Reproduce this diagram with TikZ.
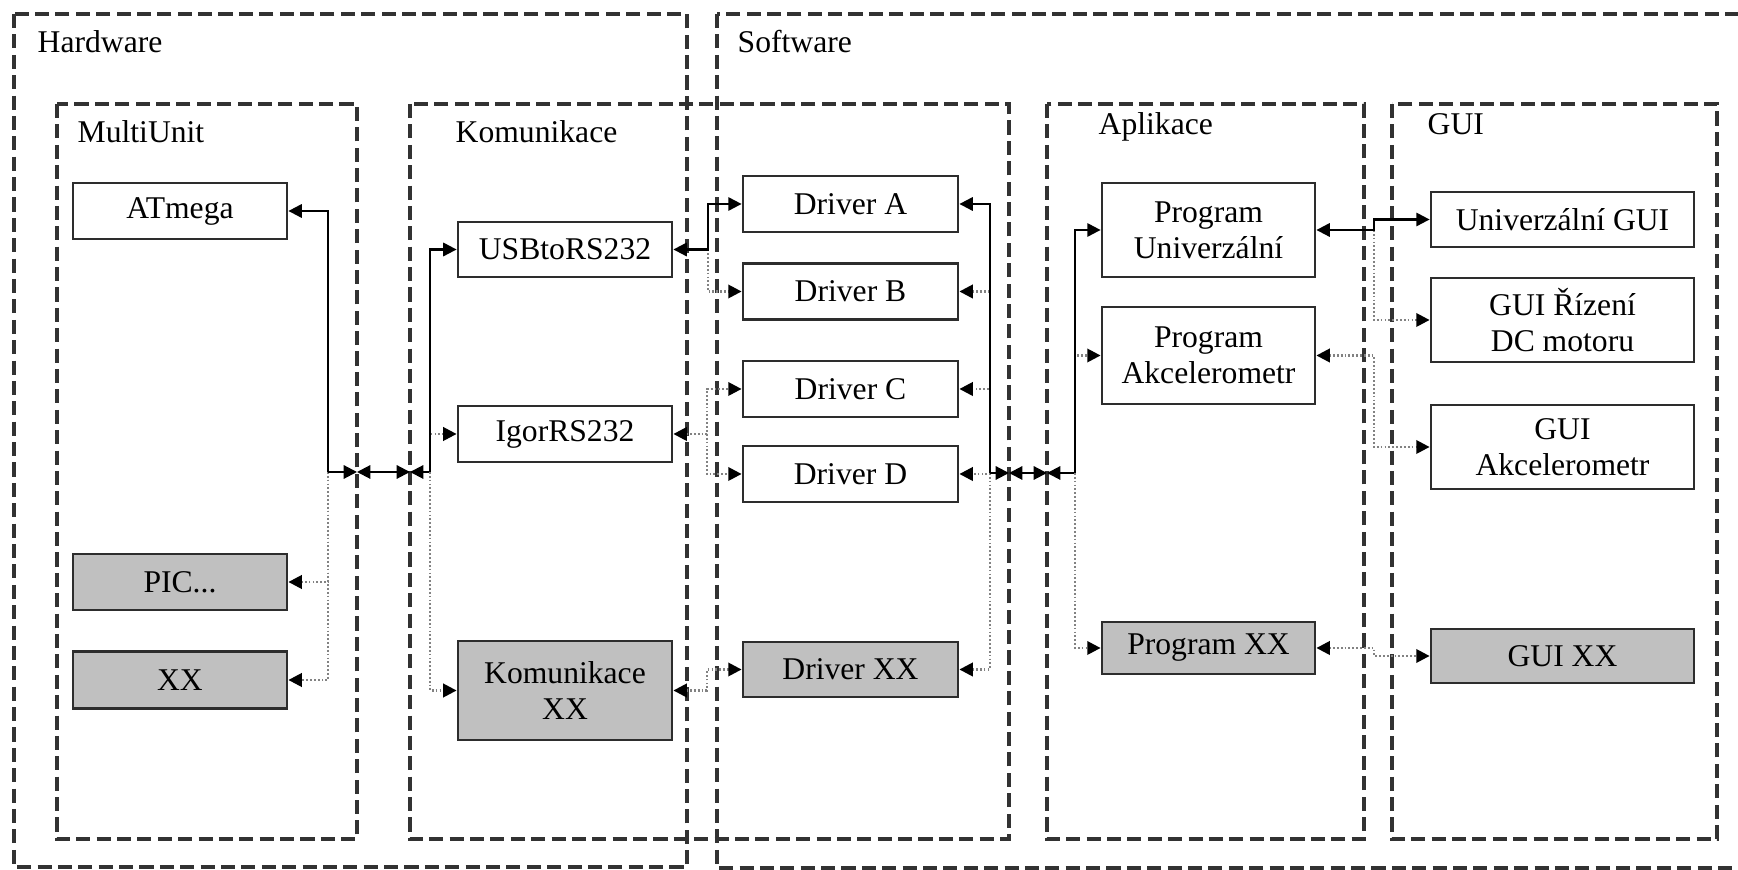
\documentclass[tikz,border=0pt]{standalone}
\usepackage{fontspec}
\setmainfont{Liberation Serif}
\usepackage{tikz}
\usetikzlibrary{arrows.meta}
\definecolor{frameline}{RGB}{50,50,50}
\definecolor{boxline}{RGB}{45,45,45}
\definecolor{boxgrey}{RGB}{192,192,192}
\definecolor{dotgrey}{RGB}{130,130,130}

\begin{document}
\begin{tikzpicture}[x=1cm, y=-1cm, font=\fontsize{9}{10.2}\selectfont,
    groupframe/.style={frameline, line width=0.95pt, dash pattern=on 4pt off 1.8pt},
    grouplabel/.style={anchor=base west, inner sep=0pt},
    unitbox/.style={draw=boxline, line width=0.8pt, fill=white, align=center,
      minimum width=2.14cm, inner sep=1pt},
    extrabox/.style={unitbox, fill=boxgrey},
    solidlink/.style={black, line width=0.6pt},
    dotlink/.style={dotgrey, line width=0.7pt, dash pattern=on 0.5pt off 0.6pt},
    >={Triangle[length=3.8pt, width=3.8pt, color=black]}]
  \useasboundingbox (0,0) rectangle (17.38,8.70);

  % Dashed groups
  \draw[groupframe] (0.14,0.14) rectangle (6.87,8.67);
  \draw[groupframe] (7.17,0.14) rectangle (17.50,8.68);
  \draw[groupframe] (0.57,1.04) rectangle (3.57,8.39);
  \draw[groupframe] (4.10,1.04) rectangle (10.09,8.39);
  \draw[groupframe] (10.47,1.04) rectangle (13.64,8.39);
  \draw[groupframe] (13.92,1.04) rectangle (17.17,8.39);

  \node[grouplabel] (hwlabel) at (0.37,0.53) {Hardware};
  \node[grouplabel] (swlabel) at (7.37,0.53) {Software};
  \node[grouplabel] (mulabel) at (0.77,1.43) {MultiUnit};
  \node[grouplabel] (komlabel) at (4.55,1.43) {Komunikace};
  \node[grouplabel] (aplabel) at (10.98,1.35) {Aplikace};
  \node[grouplabel] (guilabel) at (14.27,1.35) {GUI};

  % MultiUnit
  \node[unitbox, minimum height=0.56cm] (atmega) at (1.80,2.11) {ATmega};
  \node[extrabox, minimum height=0.56cm] (pic) at (1.80,5.82) {PIC...};
  \node[extrabox, minimum height=0.57cm] (hwxx) at (1.80,6.80) {XX};

  % Komunikace
  \node[unitbox, minimum height=0.55cm] (usb) at (5.65,2.495) {USBtoRS232};
  \node[unitbox, minimum height=0.56cm] (igor) at (5.65,4.34) {IgorRS232};
  \node[extrabox, minimum height=0.99cm] (komxx) at (5.65,6.905) {Komunikace\\XX};

  % Drivers
  \node[unitbox, minimum width=2.15cm, minimum height=0.56cm] (drva) at (8.505,2.04) {Driver A};
  \node[unitbox, minimum width=2.15cm, minimum height=0.56cm] (drvb) at (8.505,2.915) {Driver B};
  \node[unitbox, minimum width=2.15cm, minimum height=0.56cm] (drvc) at (8.505,3.89) {Driver C};
  \node[unitbox, minimum width=2.15cm, minimum height=0.56cm] (drvd) at (8.505,4.74) {Driver D};
  \node[extrabox, minimum width=2.15cm, minimum height=0.55cm] (drvxx) at (8.505,6.695) {Driver XX};

  % Aplikace
  \node[unitbox, minimum width=2.13cm, minimum height=0.94cm] (progu) at (12.085,2.30) {Program\\Univerzální};
  \node[unitbox, minimum width=2.13cm, minimum height=0.97cm] (proga) at (12.085,3.555) {Program\\Akcelerometr};
  \node[extrabox, minimum width=2.13cm, minimum height=0.52cm] (progxx) at (12.085,6.48) {Program XX};

  % GUI
  \node[unitbox, minimum width=2.63cm, minimum height=0.55cm] (guiu) at (15.625,2.195) {Univerzální GUI};
  \node[unitbox, minimum width=2.63cm, minimum height=0.84cm] (guidc) at (15.625,3.20) {GUI Řízení\\DC motoru};
  \node[unitbox, minimum width=2.63cm, minimum height=0.84cm] (guiakc) at (15.625,4.47) {GUI\\Akcelerometr};
  \node[extrabox, minimum width=2.63cm, minimum height=0.54cm] (guixx) at (15.625,6.56) {GUI XX};

  % Bus points and ports
  \coordinate (hwbus) at (3.28,4.72);
  \coordinate (muport) at (3.57,4.72);
  \coordinate (komportl) at (4.10,4.72);
  \coordinate (kombusl) at (4.30,4.72);
  \coordinate (jusb) at (7.08,2.495);
  \coordinate (jigor) at (7.07,4.34);
  \coordinate (jkomxx) at (7.07,6.905);
  \coordinate (drvbus) at (9.90,4.73);
  \coordinate (komportr) at (10.09,4.73);
  \coordinate (apport) at (10.47,4.73);
  \coordinate (apbus) at (10.75,4.73);
  \coordinate (jprogu) at (13.74,2.30);
  \coordinate (jproga) at (13.74,3.555);
  \coordinate (jprogxx) at (13.74,6.48);

  % MultiUnit <-> Komunikace
  \draw[dotlink,->] (hwbus) |- (pic.east);
  \draw[dotlink,->] (hwbus) |- (hwxx.east);
  \draw[solidlink,->] (hwbus) |- (atmega.east);
  \draw[solidlink,->] (hwbus) -- (muport);
  \draw[solidlink,<->] (muport) -- (komportl);
  \draw[solidlink,->] (kombusl) -- (komportl);
  \draw[dotlink,->] (kombusl) |- (igor.west);
  \draw[dotlink,->] (kombusl) |- (komxx.west);
  \draw[solidlink,->] (kombusl) |- (usb.west);

  % Komunikace <-> Drivers
  \draw[dotlink,->] (jusb) |- (drvb.west);
  \draw[solidlink,<->] (usb.east) -- (jusb) |- (drva.west);
  \draw[dotlink,<->] (igor.east) -- (jigor) |- (drvc.west);
  \draw[dotlink,->] (jigor) |- (drvd.west);
  \draw[dotlink,<->] (komxx.east) -- (jkomxx) |- (drvxx.west);

  % Drivers <-> Aplikace
  \draw[dotlink,->] (drvbus) |- (drvb.east);
  \draw[dotlink,->] (drvbus) |- (drvc.east);
  \draw[dotlink,->] (drvbus) |- (drvd.east);
  \draw[dotlink,->] (drvbus) |- (drvxx.east);
  \draw[solidlink,->] (drvbus) |- (drva.east);
  \draw[solidlink,->] (drvbus) -- (komportr);
  \draw[solidlink,<->] (komportr) -- (apport);
  \draw[solidlink,->] (apbus) -- (apport);
  \draw[dotlink,->] (apbus) |- (proga.west);
  \draw[dotlink,->] (apbus) |- (progxx.west);
  \draw[solidlink,->] (apbus) |- (progu.west);

  % Aplikace <-> GUI
  \draw[dotlink,->] (jprogu) |- (guidc.west);
  \draw[solidlink,<->] (progu.east) -- (jprogu) |- (guiu.west);
  \draw[dotlink,<->] (proga.east) -- (jproga) |- (guiakc.west);
  \draw[dotlink,<->] (progxx.east) -- (jprogxx) |- (guixx.west);
\end{tikzpicture}
\end{document}
